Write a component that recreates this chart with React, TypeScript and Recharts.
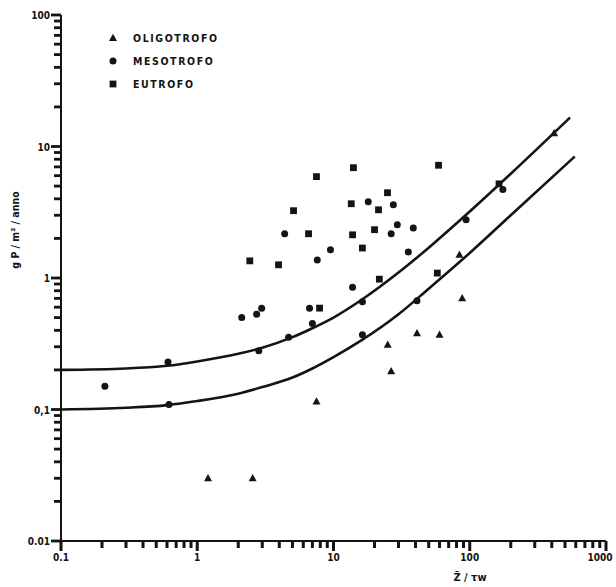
import React from 'react';
import {
  ComposedChart,
  Scatter,
  Line,
  XAxis,
  YAxis,
  Legend,
} from 'recharts';

// loads (x = z/tw, y = g P/m2/anno)
const oligotrofo = [
  { x: 1.2, y: 0.03 },
  { x: 2.55, y: 0.03 },
  { x: 7.5, y: 0.115 },
  { x: 25, y: 0.31 },
  { x: 26.5, y: 0.195 },
  { x: 41, y: 0.38 },
  { x: 60, y: 0.37 },
  { x: 84, y: 1.5 },
  { x: 88, y: 0.7 },
  { x: 416, y: 12.6 },
];

const mesotrofo = [
  { x: 0.21, y: 0.15 },
  { x: 0.61, y: 0.23 },
  { x: 0.62, y: 0.109 },
  { x: 2.12, y: 0.5 },
  { x: 2.73, y: 0.53 },
  { x: 2.97, y: 0.59 },
  { x: 2.83, y: 0.28 },
  { x: 4.68, y: 0.355 },
  { x: 6.67, y: 0.59 },
  { x: 7.0, y: 0.45 },
  { x: 4.38, y: 2.17 },
  { x: 7.6, y: 1.37 },
  { x: 9.5, y: 1.64 },
  { x: 13.8, y: 0.85 },
  { x: 16.3, y: 0.66 },
  { x: 16.3, y: 0.37 },
  { x: 41, y: 0.67 },
  { x: 18, y: 3.8 },
  { x: 27.5, y: 3.6 },
  { x: 29.4, y: 2.54 },
  { x: 26.5, y: 2.17 },
  { x: 38.5, y: 2.4 },
  { x: 35.4, y: 1.58 },
  { x: 94, y: 2.77 },
  { x: 175, y: 4.7 },
];

const eutrofo = [
  { x: 7.5, y: 5.9 },
  { x: 14, y: 6.9 },
  { x: 59, y: 7.2 },
  { x: 5.09, y: 3.25 },
  { x: 13.5, y: 3.67 },
  { x: 21.4, y: 3.3 },
  { x: 24.9, y: 4.45 },
  { x: 6.56, y: 2.17 },
  { x: 13.8, y: 2.13 },
  { x: 20, y: 2.33 },
  { x: 16.3, y: 1.69 },
  { x: 2.43, y: 1.35 },
  { x: 3.95, y: 1.26 },
  { x: 21.7, y: 0.98 },
  { x: 57.8, y: 1.09 },
  { x: 7.9, y: 0.59 },
  { x: 164, y: 5.2 },
];

// the two limit curves
const upperX = [0.1, 0.3, 0.6, 1, 2, 3, 5, 7, 10, 16, 30, 50, 100, 200, 545];
const upperY = [0.2, 0.205, 0.215, 0.232, 0.265, 0.295, 0.355, 0.415, 0.5, 0.68, 1.1, 1.7, 3.2, 6.2, 16.6];
const lowerX = [0.1, 0.3, 0.6, 1, 2, 3, 5, 7, 10, 16, 30, 50, 100, 200, 590];
const lowerY = [0.1, 0.103, 0.108, 0.116, 0.132, 0.148, 0.175, 0.205, 0.25, 0.335, 0.53, 0.83, 1.55, 3.0, 8.4];

const xDecades = [0.1, 1, 10, 100, 1000];
const xLabels = ['0.1', '1', '10', '100', '1000'];
const yDecades = [0.01, 0.1, 1, 10, 100];
const yLabels = ['0.01', '0,1', '1', '10', '100'];
const minorSteps = [2, 3, 4, 5, 6, 7, 8, 9];

const upper = upperX.map((x, i) => ({ x, y: upperY[i] }));
const lower = lowerX.map((x, i) => ({ x, y: lowerY[i] }));

const CHART_W = 608;
const CHART_H = 579;
const MARGIN = { top: 7, right: 10, left: 0, bottom: 0 };
const Y_W = 53;
const X_H = 46;
const PLOT_L = MARGIN.left + Y_W;
const PLOT_W = CHART_W - MARGIN.left - MARGIN.right - Y_W;
const PLOT_H = CHART_H - MARGIN.top - MARGIN.bottom - X_H;
const PLOT_B = MARGIN.top + PLOT_H;

const FONT = '"DejaVu Sans Condensed", "DejaVu Sans", sans-serif';
const INK = '#141414';

const XTick = (props: any) => {
  const { x, y, index } = props;
  const last = index === xDecades.length - 1;
  return (
    <text x={last ? x - 6 : x} y={y + 20} textAnchor="middle" fontFamily={FONT} fontWeight="bold" fontSize={10} fill={INK}>
      {xLabels[index]}
    </text>
  );
};

const YTick = (props: any) => {
  const { x, y, index } = props;
  return (
    <text x={x - 11} y={y + 4} textAnchor="end" fontFamily={FONT} fontWeight="bold" fontSize={10} fill={INK}>
      {yLabels[index]}
    </text>
  );
};

// log comb of decade + minor marks along both axes, laid out on the same plot box
const AxisCombs = () => {
  const xs = PLOT_W / (xDecades.length - 1);
  const ys = PLOT_H / (yDecades.length - 1);
  const marks: React.ReactNode[] = [];
  xDecades.forEach((_, i) => {
    [1, ...minorSteps].forEach((m) => {
      if (i === xDecades.length - 1 && m > 1) return;
      const px = PLOT_L + (i + Math.log10(m)) * xs;
      const len = m === 1 ? 10 : 7;
      marks.push(<rect key={`x${i}-${m}`} x={px - 1.5} y={PLOT_B} width={3} height={len} fill={INK} />);
    });
  });
  yDecades.forEach((_, i) => {
    [1, ...minorSteps].forEach((m) => {
      if (i === yDecades.length - 1 && m > 1) return;
      const py = PLOT_B - (i + Math.log10(m)) * ys;
      const len = m === 1 ? 10 : 7;
      marks.push(<rect key={`y${i}-${m}`} x={PLOT_L - len} y={py - 1.4} width={len} height={2.8} fill={INK} />);
    });
  });
  return (
    <svg
      width={CHART_W}
      height={CHART_H}
      style={{ position: 'absolute', left: 0, top: 0, pointerEvents: 'none' }}
    >
      {marks}
    </svg>
  );
};

const Tri = (p: any) => (
  <polygon points={`${p.cx},${p.cy - 4.3} ${p.cx + 4},${p.cy + 2.9} ${p.cx - 4},${p.cy + 2.9}`} fill={INK} />
);
const Dot = (p: any) => <circle cx={p.cx} cy={p.cy} r={3.5} fill={INK} />;
const Sq = (p: any) => <rect x={p.cx - 3.4} y={p.cy - 3.4} width={6.8} height={6.8} fill={INK} />;

const legendRows = [
  { name: 'OLIGOTROFO', Shape: Tri },
  { name: 'MESOTROFO', Shape: Dot },
  { name: 'EUTROFO', Shape: Sq },
];

const renderLegend = () => (
  <svg width={150} height={70}>
    {legendRows.map((r, i) => (
      <g key={r.name}>
        <r.Shape cx={13} cy={10 + i * 23} />
        <text x={33} y={14 + i * 23} fontFamily={FONT} fontWeight="bold" fontSize={10.5} letterSpacing={1.6} fill={INK}>
          {r.name}
        </text>
      </g>
    ))}
  </svg>
);

export default function App() {
  return (
    <div style={{ position: 'absolute', left: 8, top: 8, width: CHART_W, height: CHART_H, background: '#fff' }}>
      <ComposedChart width={CHART_W} height={CHART_H} margin={MARGIN}>
        <XAxis
          type="number"
          dataKey="x"
          scale="log"
          domain={[0.1, 1000]}
          ticks={xDecades}
          interval={0}
          tick={<XTick />}
          tickLine={false}
          tickSize={0}
          tickMargin={0}
          height={X_H}
          axisLine={{ stroke: INK, strokeWidth: 2 }}
          label={{
            content: () => (
              <text x={462} y={573} textAnchor="middle" fontFamily={FONT} fontWeight="bold" fontSize={11} fill={INK}>
                Z̄ / τw
              </text>
            ),
          }}
        />
        <YAxis
          type="number"
          dataKey="y"
          scale="log"
          domain={[0.01, 100]}
          ticks={yDecades}
          interval={0}
          tick={<YTick />}
          tickLine={false}
          tickSize={0}
          tickMargin={0}
          width={Y_W}
          axisLine={{ stroke: INK, strokeWidth: 2 }}
          label={{
            content: () => (
              <text
                x={11}
                y={222}
                transform="rotate(-90, 11, 222)"
                textAnchor="middle"
                fontFamily={FONT}
                fontWeight="bold"
                fontSize={10.5}
                fill={INK}
              >
                g P / m² / anno
              </text>
            ),
          }}
        />
        <Legend
          layout="vertical"
          align="center"
          verticalAlign="middle"
          content={renderLegend}
          wrapperStyle={{ left: 92, top: 20, width: 150, height: 70 }}
        />
        <Line data={upper} dataKey="y" type="monotone" stroke={INK} strokeWidth={2.6} dot={false} isAnimationActive={false} legendType="none" />
        <Line data={lower} dataKey="y" type="monotone" stroke={INK} strokeWidth={2.6} dot={false} isAnimationActive={false} legendType="none" />
        <Scatter name="OLIGOTROFO" data={oligotrofo} dataKey="y" shape={<Tri />} isAnimationActive={false} />
        <Scatter name="MESOTROFO" data={mesotrofo} dataKey="y" shape={<Dot />} isAnimationActive={false} />
        <Scatter name="EUTROFO" data={eutrofo} dataKey="y" shape={<Sq />} isAnimationActive={false} />
      </ComposedChart>
      <AxisCombs />
    </div>
  );
}
